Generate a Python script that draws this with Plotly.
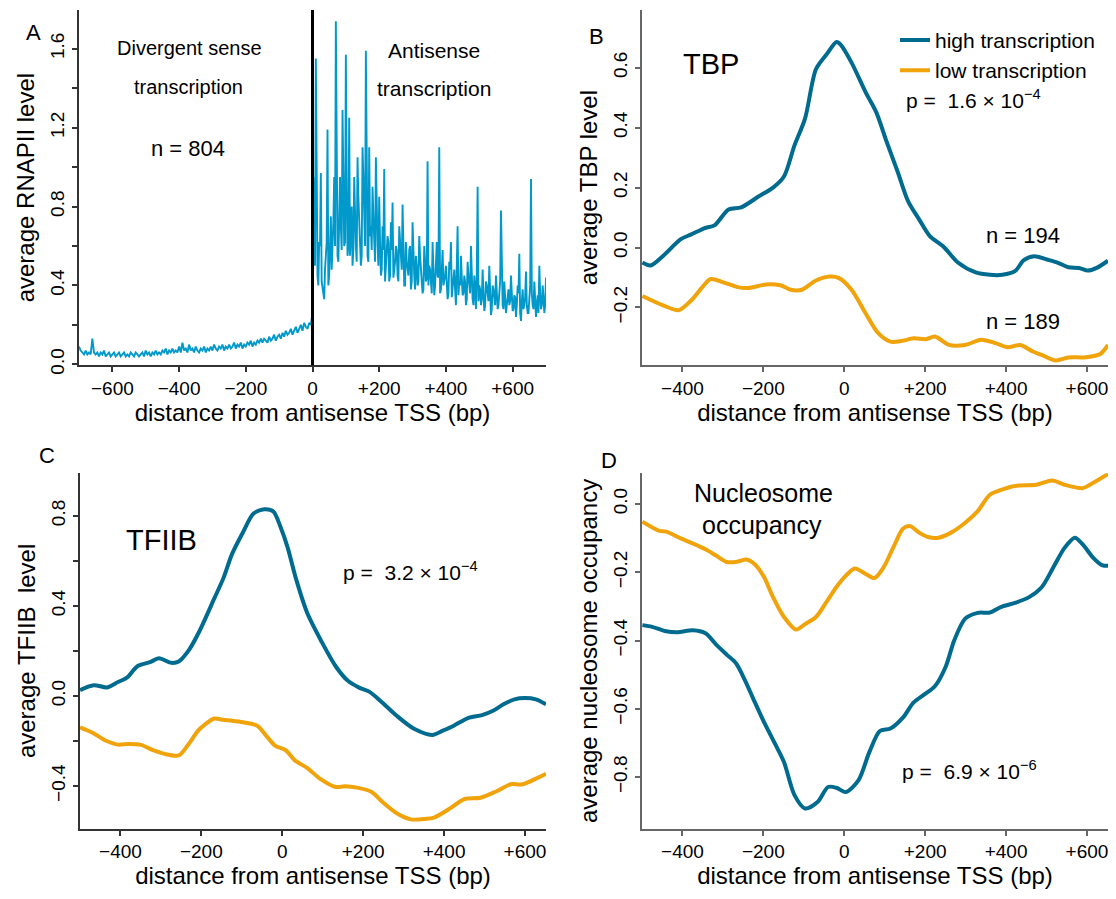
import plotly.graph_objects as go

# ---------------- data ----------------
# Panel A: average RNAPII level (hand-read, 5 bp spacing on the left)
rnap_x_left = list(range(-700, 5, 5))
rnap_y_left = [
    0.09,0.07,0.06,0.05,0.07,0.05,0.06,0.05,0.13,0.06,
    0.05,0.06,0.04,0.06,0.05,0.07,0.04,0.05,0.06,0.04,
    0.05,0.06,0.04,0.05,0.06,0.04,0.05,0.06,0.04,0.05,
    0.04,0.06,0.05,0.04,0.06,0.05,0.04,0.05,0.06,0.04,
    0.07,0.05,0.06,0.04,0.06,0.05,0.07,0.05,0.06,0.05,
    0.07,0.06,0.08,0.05,0.07,0.06,0.08,0.06,0.07,0.06,
    0.09,0.06,0.11,0.07,0.08,0.06,0.10,0.07,0.08,0.06,
    0.09,0.07,0.06,0.08,0.07,0.09,0.06,0.08,0.07,0.09,
    0.07,0.10,0.08,0.07,0.09,0.08,0.10,0.07,0.09,0.08,
    0.10,0.08,0.09,0.11,0.08,0.10,0.09,0.11,0.08,0.10,
    0.09,0.11,0.10,0.12,0.09,0.11,0.10,0.12,0.11,0.13,
    0.11,0.13,0.12,0.11,0.14,0.12,0.13,0.15,0.12,0.14,
    0.15,0.13,0.16,0.14,0.17,0.15,0.16,0.18,0.15,0.17,
    0.19,0.16,0.18,0.20,0.17,0.21,0.19,0.18,0.21,0.20,
    0.26]
# right side: values at 5, 10, ... 700 bp
rnap_y_right = [
    0.70,1.55,0.45,0.62,0.97,0.38,0.33,0.55,1.19,0.45,
    0.75,0.60,0.95,1.74,0.55,0.85,0.70,1.29,0.60,1.57,
    0.55,1.25,0.75,0.50,0.95,0.60,1.05,0.70,0.50,1.10,
    0.65,1.59,0.55,1.10,0.70,0.90,0.55,1.05,0.60,0.85,
    0.45,0.70,0.99,0.50,0.65,0.42,0.72,0.82,0.48,0.60,
    0.45,0.70,0.55,0.81,0.40,0.62,0.48,0.58,0.38,0.72,
    0.45,0.55,0.40,0.65,0.48,0.36,0.60,0.42,1.03,0.50,
    0.40,0.62,0.35,0.55,0.45,1.10,0.38,0.58,0.42,0.50,
    0.33,0.52,0.62,0.40,0.48,0.30,0.70,0.42,0.55,0.35,
    0.45,0.30,0.52,0.38,0.60,0.33,0.45,0.28,0.90,0.40,
    0.30,0.48,0.27,0.42,0.35,0.50,0.25,0.40,0.32,0.45,
    0.28,0.38,0.78,0.30,0.42,0.26,0.36,0.30,0.45,0.27,
    0.35,0.24,0.40,0.56,0.22,0.38,0.30,0.47,0.26,0.36,
    0.94,0.30,0.42,0.24,0.35,0.50,0.28,0.40,0.26,0.44]
# right side: values at 2.5, 7.5, ... 697.5 bp
rnap_y_right_mid = [
    0.95,0.50,0.80,0.40,0.60,0.42,0.36,0.48,0.62,0.40,
    0.58,0.48,0.72,0.60,0.80,0.52,0.95,0.58,1.05,0.62,
    0.90,0.60,0.55,0.80,0.58,0.72,0.52,0.85,0.65,0.55,
    0.95,0.60,0.88,0.52,0.65,0.58,0.75,0.52,0.70,0.50,
    0.62,0.48,0.58,0.42,0.55,0.62,0.45,0.58,0.44,0.52,
    0.58,0.42,0.62,0.48,0.55,0.40,0.52,0.45,0.60,0.42,
    0.52,0.38,0.50,0.42,0.55,0.46,0.38,0.52,0.44,0.40,
    0.48,0.36,0.50,0.40,0.62,0.44,0.36,0.48,0.40,0.45,
    0.42,0.36,0.48,0.34,0.42,0.38,0.50,0.35,0.40,0.44,
    0.36,0.42,0.33,0.45,0.36,0.40,0.30,0.38,0.46,0.32,
    0.38,0.33,0.36,0.30,0.40,0.32,0.36,0.28,0.38,0.30,
    0.34,0.30,0.42,0.36,0.28,0.34,0.30,0.38,0.32,0.35,
    0.28,0.34,0.30,0.36,0.26,0.32,0.28,0.34,0.30,0.26,
    0.40,0.36,0.28,0.34,0.30,0.26,0.36,0.30,0.34,0.30]

rnap_x = list(rnap_x_left)
rnap_y = list(rnap_y_left)
for k in range(len(rnap_y_right)):
    rnap_x += [2.5 + 5 * k, 5 + 5 * k]
    rnap_y += [rnap_y_right_mid[k], rnap_y_right[k]]

# Panel B: TBP
tbp_high_x = [-499,-479,-448,-404,-378,-343,-321,-286,-255,-211,-176,-149,-123,-97,-70,-44,-19,-9,
              18,53,79,105,132,158,185,211,246,281,325,360,391,422,444,470,501,527,554,580,602,624,652]
tbp_high_y = [-0.05,-0.06,-0.028,0.028,0.044,0.066,0.074,0.127,0.134,0.171,0.20,0.237,0.341,0.43,0.595,
              0.644,0.686,0.677,0.617,0.518,0.452,0.352,0.253,0.154,0.094,0.039,0.002,-0.05,-0.083,
              -0.091,-0.091,-0.079,-0.042,-0.029,-0.04,-0.05,-0.066,-0.068,-0.077,-0.068,-0.044]
tbp_low_x = [-499,-448,-409,-378,-352,-330,-299,-264,-237,-193,-158,-132,-105,-70,-35,-13,18,53,84,114,
             141,171,202,224,259,299,338,374,404,435,466,492,523,554,598,633,652]
tbp_low_y = [-0.162,-0.193,-0.209,-0.176,-0.134,-0.105,-0.116,-0.132,-0.135,-0.123,-0.126,-0.141,-0.141,
             -0.11,-0.097,-0.102,-0.141,-0.22,-0.286,-0.314,-0.312,-0.303,-0.306,-0.297,-0.325,-0.325,
             -0.308,-0.319,-0.333,-0.325,-0.347,-0.361,-0.377,-0.367,-0.366,-0.355,-0.325]

# Panel C: TFIIB
tfiib_high_x = [-500,-466,-433,-406,-384,-358,-327,-305,-274,-256,-230,-203,-168,-146,-124,-97,-71,-44,
                -22,-4,13,35,62,97,132,163,190,216,247,283,327,371,397,424,459,494,521,547,574,600,627,652]
tfiib_high_y = [0.026,0.048,0.038,0.062,0.081,0.132,0.15,0.167,0.147,0.153,0.206,0.294,0.433,0.521,0.631,
                0.727,0.81,0.829,0.819,0.749,0.661,0.514,0.367,0.242,0.132,0.066,0.037,0.018,-0.029,
                -0.088,-0.147,-0.173,-0.154,-0.132,-0.098,-0.085,-0.066,-0.037,-0.015,-0.009,-0.015,-0.037]
tfiib_low_x = [-500,-468,-437,-406,-380,-349,-318,-291,-256,-234,-208,-190,-168,-146,-124,-97,-62,-40,
               -18,9,31,62,93,132,155,185,221,247,283,318,353,375,415,450,490,530,565,592,627,652]
tfiib_low_y = [-0.139,-0.164,-0.198,-0.216,-0.213,-0.217,-0.242,-0.257,-0.264,-0.22,-0.154,-0.125,-0.10,
               -0.106,-0.11,-0.117,-0.132,-0.176,-0.22,-0.242,-0.286,-0.32,-0.367,-0.404,-0.401,-0.407,
               -0.426,-0.47,-0.521,-0.548,-0.546,-0.54,-0.499,-0.458,-0.452,-0.423,-0.392,-0.393,-0.367,-0.345]

# Panel D: nucleosome occupancy
nuc_high_x = [-499,-475,-444,-413,-374,-343,-316,-290,-268,-246,-224,-198,-171,-149,-123,-97,-66,-40,-18,
              4,35,62,88,114,145,171,198,224,251,272,299,330,360,387,422,457,488,519,545,570,589,615,637,655]
nuc_high_y = [-0.355,-0.36,-0.372,-0.376,-0.37,-0.379,-0.413,-0.442,-0.466,-0.515,-0.573,-0.64,-0.703,
              -0.756,-0.853,-0.892,-0.873,-0.829,-0.832,-0.844,-0.81,-0.727,-0.665,-0.658,-0.626,-0.582,
              -0.558,-0.534,-0.476,-0.399,-0.336,-0.319,-0.318,-0.302,-0.29,-0.273,-0.244,-0.181,-0.128,
              -0.099,-0.118,-0.157,-0.179,-0.181]
nuc_low_x = [-499,-457,-440,-404,-374,-343,-316,-290,-264,-242,-220,-198,-176,-149,-119,-97,-70,-44,-18,
             4,26,53,75,97,123,145,163,185,207,233,264,299,330,360,400,431,475,514,545,589,607,655]
nuc_low_y = [-0.052,-0.079,-0.081,-0.101,-0.116,-0.133,-0.152,-0.17,-0.169,-0.163,-0.178,-0.215,-0.273,
             -0.331,-0.368,-0.352,-0.331,-0.287,-0.241,-0.21,-0.189,-0.205,-0.217,-0.186,-0.123,-0.073,
             -0.065,-0.084,-0.097,-0.099,-0.084,-0.055,-0.021,0.027,0.046,0.054,0.056,0.069,0.056,0.046,
             0.056,0.09]

xticks_a = [-600, -400, -200, 0, 200, 400, 600]
xtick_text_a = ["\u2212600", "\u2212400", "\u2212200", "0", "+200", "+400", "+600"]
xticks_bcd = [-400, -200, 0, 200, 400, 600]
xtick_text_bcd = ["\u2212400", "\u2212200", "0", "+200", "+400", "+600"]

ya_vals = [0, 0.4, 0.8, 1.2, 1.6]
ya_text = ["0.0", "0.4", "0.8", "1.2", "1.6"]
ya_minor = [0.2, 0.6, 1.0, 1.4]
yb_vals = [-0.2, 0.0, 0.2, 0.4, 0.6]
yb_text = ["\u22120.2", "0.0", "0.2", "0.4", "0.6"]
yc_vals = [-0.4, 0.0, 0.4, 0.8]
yc_text = ["\u22120.4", "0.0", "0.4", "0.8"]
yc_minor = [-0.2, 0.2, 0.6]
yd_vals = [-0.8, -0.6, -0.4, -0.2, 0.0]
yd_text = ["\u22120.8", "\u22120.6", "\u22120.4", "\u22120.2", "0.0"]

x_title = "distance from antisense TSS (bp)"
y_titles = ["average RNAPII level", "average TBP level", "average TFIIB  level",
            "average nucleosome occupancy"]

# ---------------- styling ----------------
W, H = 1116, 899
FONT = "Liberation Sans, Arial, sans-serif"
C_A = "#0099cc"
C_HIGH = "#006b8f"
C_LOW = "#f0a30a"
TICK_SIZE = 19


def px(x):
    return x / W


def py(y):
    return 1 - y / H


fig = go.Figure()

fig.add_trace(go.Scatter(x=rnap_x, y=rnap_y, mode="lines", line=dict(color=C_A, width=1.9),
                         xaxis="x", yaxis="y", showlegend=False))

fig.add_trace(go.Scatter(x=tbp_high_x, y=tbp_high_y, mode="lines", name="high transcription",
                         line=dict(color=C_HIGH, width=4, shape="spline", smoothing=0.8),
                         xaxis="x2", yaxis="y2"))
fig.add_trace(go.Scatter(x=tbp_low_x, y=tbp_low_y, mode="lines", name="low transcription",
                         line=dict(color=C_LOW, width=4, shape="spline", smoothing=0.8),
                         xaxis="x2", yaxis="y2"))

fig.add_trace(go.Scatter(x=tfiib_high_x, y=tfiib_high_y, mode="lines", showlegend=False,
                         line=dict(color=C_HIGH, width=4, shape="spline", smoothing=0.8),
                         xaxis="x3", yaxis="y3"))
fig.add_trace(go.Scatter(x=tfiib_low_x, y=tfiib_low_y, mode="lines", showlegend=False,
                         line=dict(color=C_LOW, width=4, shape="spline", smoothing=0.8),
                         xaxis="x3", yaxis="y3"))

fig.add_trace(go.Scatter(x=nuc_low_x, y=nuc_low_y, mode="lines", showlegend=False,
                         line=dict(color=C_LOW, width=4, shape="spline", smoothing=0.8),
                         xaxis="x4", yaxis="y4"))
fig.add_trace(go.Scatter(x=nuc_high_x, y=nuc_high_y, mode="lines", showlegend=False,
                         line=dict(color=C_HIGH, width=4, shape="spline", smoothing=0.8),
                         xaxis="x4", yaxis="y4"))


def xax(domain, rng, tv, tt, anchor, color):
    return dict(domain=domain, range=rng, tickvals=tv, ticktext=tt, anchor=anchor,
                showline=True, linecolor=color, linewidth=2, ticks="outside", ticklen=5,
                tickwidth=1.5, tickcolor=color, showgrid=False, zeroline=False,
                tickfont=dict(size=TICK_SIZE, color="black", family=FONT),
                title=dict(text=x_title, standoff=3,
                           font=dict(size=24, color="black", family=FONT)))


def yax(domain, rng, tv, tt, anchor, color, title, minor_vals=None):
    d = dict(domain=domain, range=rng, tickvals=tv, ticktext=tt, anchor=anchor,
             showline=True, linecolor=color, linewidth=2, ticks="outside", ticklen=5,
             tickwidth=1.5, tickcolor=color, showgrid=False, zeroline=False, tickangle=-90,
             tickfont=dict(size=TICK_SIZE, color="black", family=FONT),
             title=dict(text=title, standoff=6,
                        font=dict(size=24, color="black", family=FONT)))
    if minor_vals:
        d["minor"] = dict(tickvals=minor_vals, ticks="outside", ticklen=5, tickwidth=1.5,
                          tickcolor=color, showgrid=False)
    return d


top = [py(369), py(10)]
bot = [py(837), py(478)]
left_a = [px(79), px(546)]
left_c = [px(80), px(546)]
right = [px(642), px(1108)]

fig.update_layout(
    width=W, height=H, margin=dict(l=0, r=0, t=0, b=0),
    paper_bgcolor="white", plot_bgcolor="white",
    font=dict(family=FONT, color="black"),
    xaxis=xax(left_a, [-700, 700], xticks_a, xtick_text_a, "y", "#333"),
    yaxis=yax(top, [-0.005, 1.797], ya_vals, ya_text, "x", "#333", y_titles[0], ya_minor),
    xaxis2=xax(right, [-500, 652], xticks_bcd, xtick_text_bcd, "y2", "#666"),
    yaxis2=yax(top, [-0.393, 0.793], yb_vals, yb_text, "x2", "#666", y_titles[1]),
    xaxis3=xax(left_c, [-500, 652], xticks_bcd, xtick_text_bcd, "y3", "#333"),
    yaxis3=yax(bot, [-0.589, 0.989], yc_vals, yc_text, "x3", "#333", y_titles[2], yc_minor),
    xaxis4=xax(right, [-500, 652], xticks_bcd, xtick_text_bcd, "y4", "#666"),
    yaxis4=yax(bot, [-0.951, 0.09], yd_vals, yd_text, "x4", "#666", y_titles[3]),
    legend=dict(x=px(895), y=py(20), xanchor="left", yanchor="top",
                font=dict(size=21, family=FONT), bgcolor="rgba(0,0,0,0)",
                tracegroupgap=0),
)

fig.add_shape(type="line", xref="x", yref="y domain", x0=0, x1=0, y0=0, y1=1,
              line=dict(color="black", width=3))


def ann(text, x, y, size, xanchor="center"):
    fig.add_annotation(text=text, x=px(x), y=py(y), xref="paper", yref="paper",
                       xanchor=xanchor, yanchor="middle", showarrow=False,
                       font=dict(size=size, family=FONT, color="black"))


# panel letters
ann("A", 33, 33, 22)
ann("B", 596, 37, 22)
ann("C", 47, 460, 22)
ann("D", 609, 465, 22)

# panel A texts
ann("Divergent sense", 189, 48, 20)
ann("transcription", 188, 88, 20)
ann("n = 804", 188, 150, 22)
ann("Antisense", 434, 51, 21)
ann("transcription", 434, 89, 21)

# panel B texts
ann("TBP", 711, 65, 29)
ann("p =  1.6 \u00d7 10<sup>\u22124</sup>", 904, 100, 21, xanchor="left")
ann("n = 194", 984, 238, 22, xanchor="left")
ann("n = 189", 984, 325, 22, xanchor="left")

# panel C texts
ann("TFIIB", 161, 545, 29)
ann("p =  3.2 \u00d7 10<sup>\u22124</sup>", 341, 577, 21, xanchor="left")

# panel D texts
ann("Nucleosome", 763, 498, 25)
ann("occupancy", 762, 530, 25)
ann("p =  6.9 \u00d7 10<sup>\u22126</sup>", 900, 778, 21, xanchor="left")

fig.write_html("out.html")
